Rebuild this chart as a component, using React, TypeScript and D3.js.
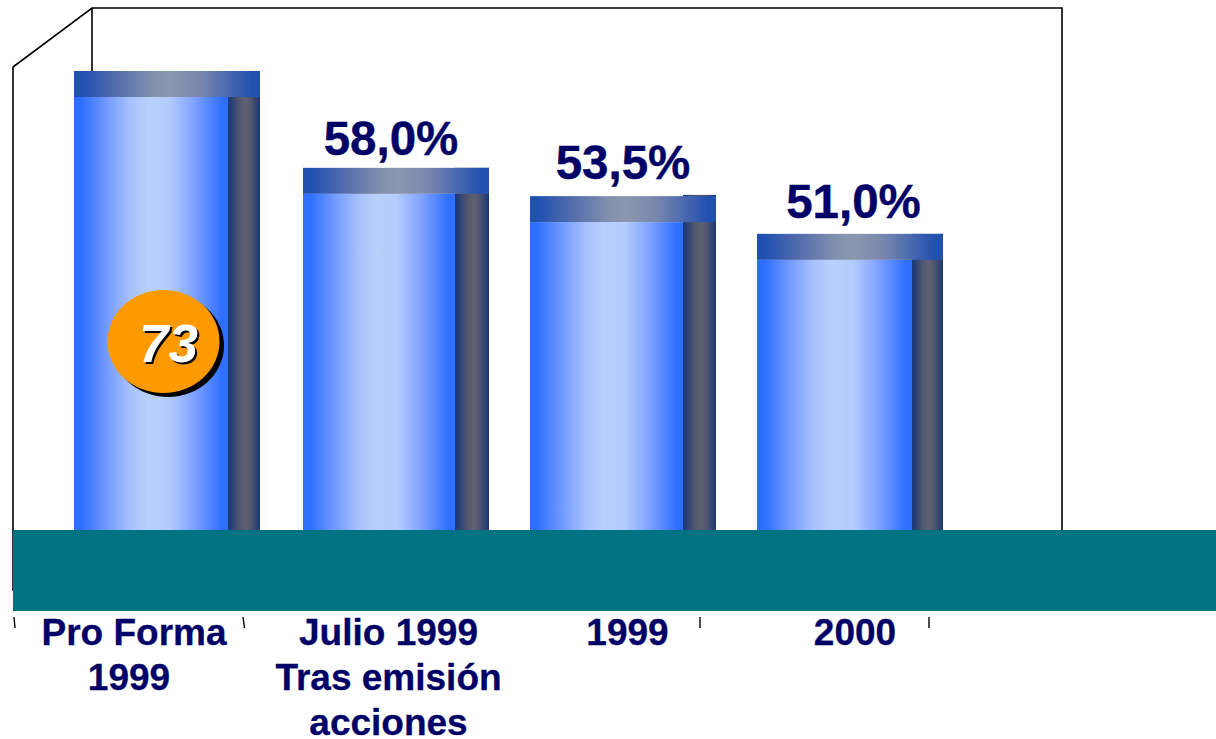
import React, { useEffect, useRef } from "react";
import * as d3 from "d3";

const categories = ["Pro Forma 1999", "Julio 1999", "1999", "2000"];
const categoryLines = [
  ["Pro Forma", "1999"],
  ["Julio 1999", "Tras emisión", "acciones"],
  ["1999"],
  ["2000"],
];
// bar heights as drawn in the picture (they do not follow the printed labels exactly)
const barLevels = [73, 57.6, 53.1, 47.1];
const sideLevels = [73, 57.6, 53.3, 47.1];
const valueLabels = ["", "58,0%", "53,5%", "51,0%"];
const badgeLabel = "73";

const width = 1216;
const height = 739;
const baseY = 530;
const capHeight = 26;
const navy = "#000066";
const font = "'Liberation Sans', Arial, sans-serif";

const App: React.FC = () => {
  const svgRef = useRef<SVGSVGElement | null>(null);

  useEffect(() => {
    if (!svgRef.current) return;

    const svg = d3.select(svgRef.current);
    svg.selectAll("*").remove();

    const yScale = d3.scaleLinear().domain([0, 73]).range([baseY, 71]);
    const barLeft = d3.scaleOrdinal<string, number>().domain(categories).range([74, 303, 530, 757]);
    const sideLeft = d3.scaleOrdinal<string, number>().domain(categories).range([228, 455, 683, 912]);
    const labelX = d3.scaleOrdinal<string, number>().domain(categories).range([134, 388.5, 627.5, 855]);
    const valueX = d3.scaleOrdinal<string, number>().domain(categories).range([0, 391, 623, 853.5]);
    const barWidth = 186;

    const defs = svg.append("defs");
    const addGradient = (id: string, stops: [number, string][]) => {
      const g = defs.append("linearGradient").attr("id", id).attr("x1", 0).attr("x2", 1).attr("y1", 0).attr("y2", 0);
      stops.forEach(([at, color]) => g.append("stop").attr("offset", at).attr("stop-color", color));
    };
    addGradient("front", [
      [0.05, "#2f6fff"],
      [0.2, "#6f97fe"],
      [0.36, "#a6c0fc"],
      [0.48, "#b9d0fd"],
      [0.62, "#b3cbfd"],
      [0.78, "#7fa2fe"],
      [0.96, "#2f6fff"],
    ]);
    addGradient("cap", [
      [0.04, "#2050b0"],
      [0.25, "#5a70ac"],
      [0.42, "#8090ae"],
      [0.52, "#8a97ae"],
      [0.68, "#7886ae"],
      [0.96, "#2050b0"],
    ]);
    addGradient("side", [
      [0.05, "#1f3a78"],
      [0.35, "#50566f"],
      [0.55, "#5e6170"],
      [0.72, "#50566f"],
      [1, "#1b3576"],
    ]);

    // box behind the bars
    const frame = d3.line();
    svg
      .append("path")
      .attr("d", frame([[13, 591], [13, 67], [92, 8], [1062, 8], [1062, baseY]]))
      .attr("fill", "none")
      .attr("stroke", "#000")
      .attr("stroke-width", 1.6);
    svg
      .append("path")
      .attr("d", frame([[92, 8], [92, 80]]))
      .attr("fill", "none")
      .attr("stroke", "#000")
      .attr("stroke-width", 1.6);

    const bars = svg
      .selectAll("g.bar")
      .data(categories)
      .enter()
      .append("g")
      .attr("class", "bar");

    bars
      .append("rect")
      .attr("x", (d) => barLeft(d))
      .attr("y", (d, i) => yScale(barLevels[i]) + capHeight)
      .attr("width", (d) => sideLeft(d) - barLeft(d))
      .attr("height", (d, i) => baseY - yScale(barLevels[i]) - capHeight)
      .attr("fill", "url(#front)");

    bars
      .append("rect")
      .attr("x", (d) => sideLeft(d))
      .attr("y", (d, i) => yScale(sideLevels[i]))
      .attr("width", (d) => barLeft(d) + barWidth - sideLeft(d))
      .attr("height", (d, i) => baseY - yScale(sideLevels[i]))
      .attr("fill", "url(#side)");

    bars
      .append("rect")
      .attr("x", (d) => barLeft(d))
      .attr("y", (d, i) => yScale(barLevels[i]))
      .attr("width", barWidth)
      .attr("height", capHeight)
      .attr("fill", "url(#cap)");

    // floor band
    svg.append("rect").attr("x", 13).attr("y", baseY).attr("width", width - 13).attr("height", 81).attr("fill", "#027382");

    // leftover tick marks under the floor
    const ticks = [
      [14, 15],
      [243, 244.5],
      [700, 700],
      [929, 929],
    ];
    svg
      .selectAll("line.tick")
      .data(ticks)
      .enter()
      .append("line")
      .attr("class", "tick")
      .attr("x1", (d) => d[0])
      .attr("x2", (d) => d[1])
      .attr("y1", 617)
      .attr("y2", 628)
      .attr("stroke", "#000")
      .attr("stroke-width", 1.4);

    // value labels
    svg
      .selectAll("text.value")
      .data(categories)
      .enter()
      .append("text")
      .attr("class", "value")
      .attr("x", (d) => valueX(d))
      .attr("y", (d, i) => (i === 3 ? 218 : i === 2 ? 179 : 155))
      .attr("text-anchor", "middle")
      .attr("font-family", font)
      .attr("font-weight", "bold")
      .attr("font-size", 47.5)
      .attr("fill", navy)
      .attr("stroke", navy)
      .attr("stroke-width", 0.4)
      .text((d, i) => valueLabels[i]);

    // category labels
    categories.forEach((c, i) => {
      categoryLines[i].forEach((line, j) => {
        svg
          .append("text")
          .attr("x", i === 0 && j === 1 ? 129 : labelX(c))
          .attr("y", 645 + j * 45)
          .attr("text-anchor", "middle")
          .attr("font-family", font)
          .attr("font-weight", "bold")
          .attr("font-size", 37)
          .attr("fill", navy)
          .attr("stroke", navy)
          .attr("stroke-width", 0.3)
          .text(line);
      });
    });

    // badge
    const badge = svg.append("g");
    badge.append("ellipse").attr("cx", 168).attr("cy", 345.5).attr("rx", 56).attr("ry", 51.5).attr("fill", "#000");
    badge.append("ellipse").attr("cx", 163.5).attr("cy", 341.5).attr("rx", 56).attr("ry", 51.5).attr("fill", "#ff9900");
    [
      { dx: 2, dy: 2, fill: "#000" },
      { dx: 0, dy: 0, fill: "#fff" },
    ].forEach((t) => {
      badge
        .append("text")
        .attr("x", 168.5 + t.dx)
        .attr("y", 362 + t.dy)
        .attr("text-anchor", "middle")
        .attr("font-family", font)
        .attr("font-weight", "bold")
        .attr("font-style", "italic")
        .attr("font-size", 53)
        .attr("fill", t.fill)
        .text(badgeLabel);
    });
  }, []);

  return (
    <svg
      ref={svgRef}
      width={width}
      height={height}
      style={{ position: "absolute", left: 0, top: 0, background: "#fff" }}
    ></svg>
  );
};

export default App;
